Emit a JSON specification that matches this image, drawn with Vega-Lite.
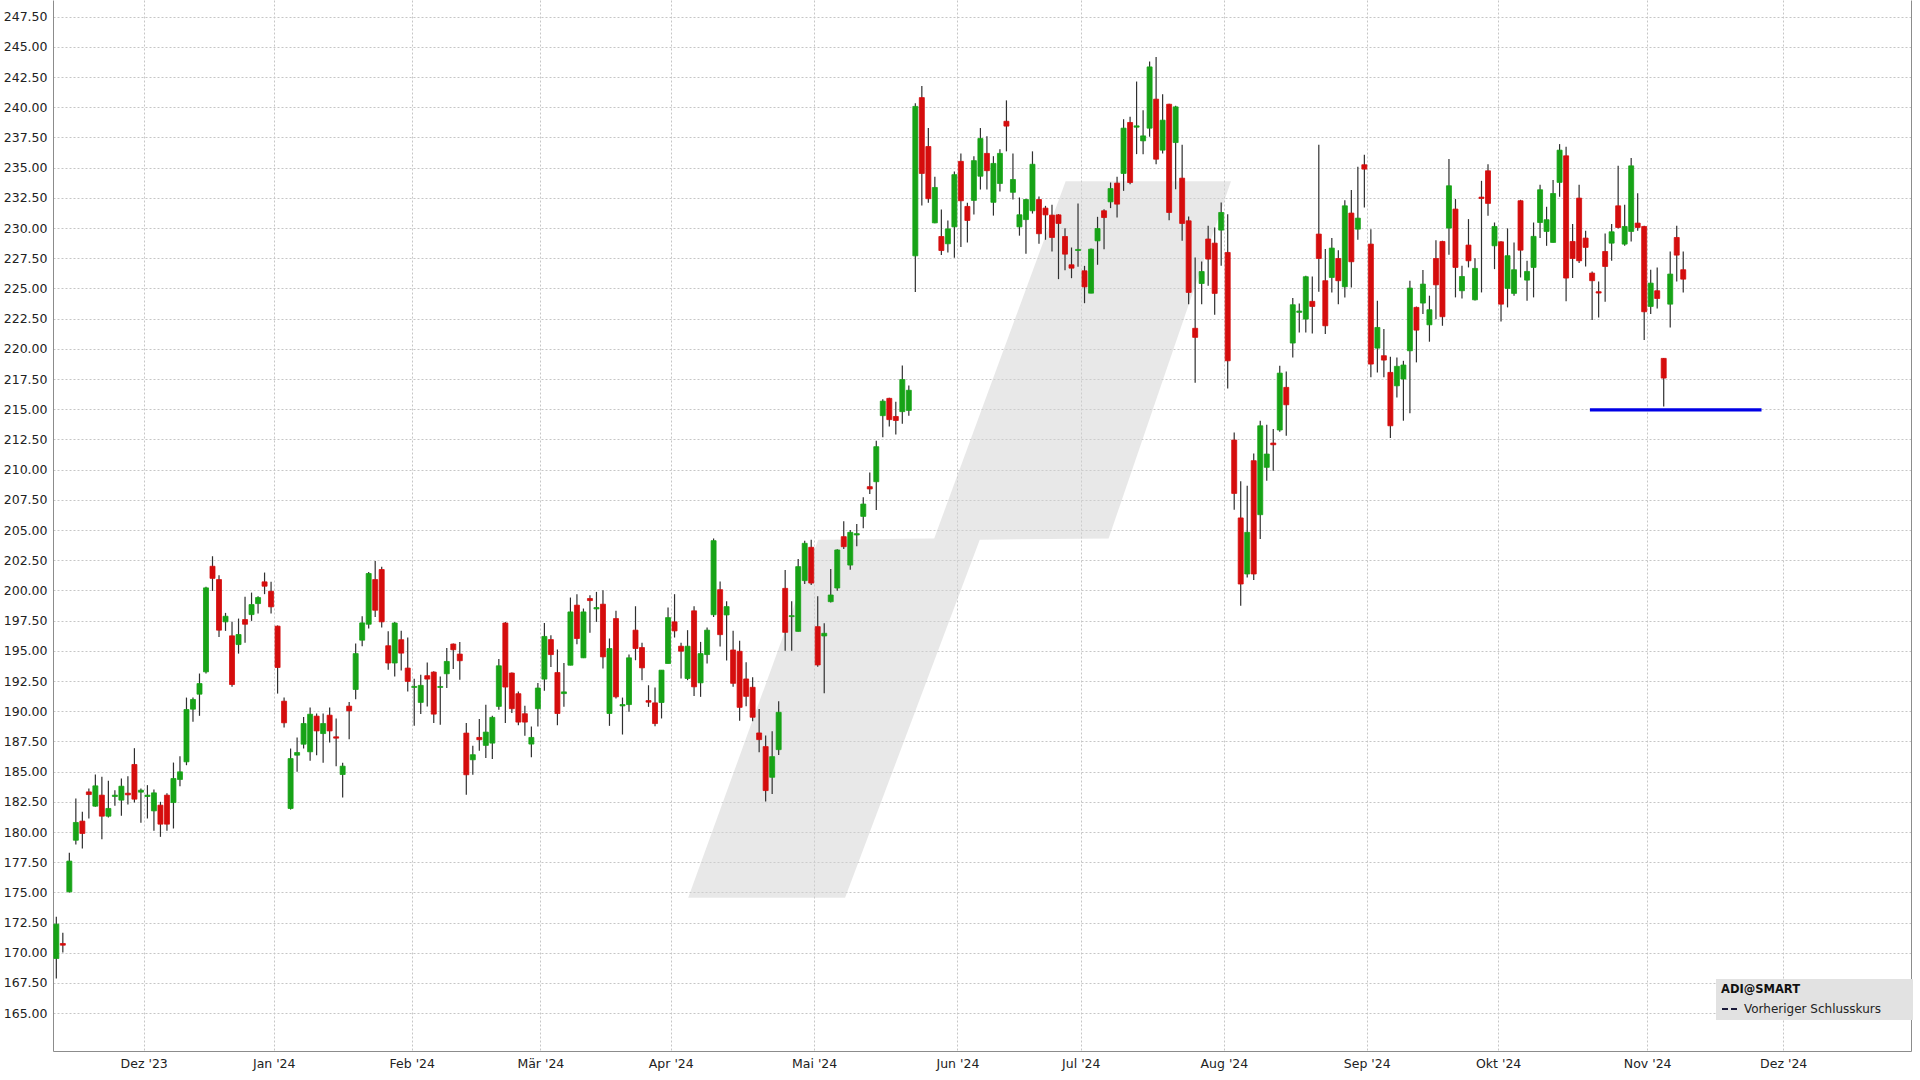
{
"$schema": "https://vega.github.io/schema/vega-lite/v6.json",
"width": 1858, "height": 1051,
"autosize": {"type": "none"},
"padding": {"left": 53, "top": 0, "right": 9, "bottom": 29},
"background": "white",
"config": {"view": {"stroke": null}, "font": "DejaVu Sans"},
"resolve": {"axis": {"y": "independent"}},
"datasets": {
"logo": [
{"p":174.55,"xl":98.1,"xr":122.2},
{"p":204.2,"xl":118.06,"xr":142.9},
{"p":204.3,"xl":135.9,"xr":162.7},
{"p":233.87,"xl":156.1,"xr":181.5}
],
"candles": [
{"i":1,"o":169.53,"h":172.98,"l":167.87,"c":172.37},
{"i":2,"o":170.77,"h":171.65,"l":170.03,"c":170.63},
{"i":3,"o":175.05,"h":178.28,"l":175.0,"c":177.59},
{"i":4,"o":179.32,"h":182.77,"l":178.97,"c":180.79},
{"i":5,"o":180.9,"h":181.67,"l":178.63,"c":179.88},
{"i":6,"o":183.32,"h":183.6,"l":181.12,"c":183.1},
{"i":7,"o":182.14,"h":184.76,"l":182.1,"c":183.82},
{"i":8,"o":183.05,"h":184.57,"l":179.41,"c":181.31},
{"i":9,"o":181.31,"h":184.24,"l":181.2,"c":181.95},
{"i":10,"o":182.94,"h":183.46,"l":182.17,"c":183.05},
{"i":11,"o":182.64,"h":184.43,"l":181.34,"c":183.79},
{"i":12,"o":183.21,"h":184.62,"l":182.28,"c":183.08},
{"i":13,"o":185.59,"h":186.94,"l":182.44,"c":182.72},
{"i":14,"o":183.3,"h":183.6,"l":180.76,"c":183.46},
{"i":15,"o":182.94,"h":183.88,"l":181.12,"c":183.05},
{"i":16,"o":181.75,"h":183.52,"l":180.1,"c":183.24},
{"i":17,"o":182.22,"h":182.5,"l":179.6,"c":180.65},
{"i":18,"o":183.05,"h":183.2,"l":180.1,"c":180.65},
{"i":19,"o":182.44,"h":185.75,"l":180.29,"c":184.43},
{"i":20,"o":184.35,"h":186.28,"l":183.79,"c":184.98},
{"i":21,"o":185.81,"h":191.13,"l":185.53,"c":190.14},
{"i":22,"o":190.17,"h":191.13,"l":189.12,"c":190.97},
{"i":23,"o":191.41,"h":193.12,"l":189.62,"c":192.29},
{"i":24,"o":193.26,"h":200.3,"l":193.12,"c":200.21},
{"i":25,"o":202.0,"h":202.83,"l":199.96,"c":201.0},
{"i":26,"o":200.9,"h":201.26,"l":196.15,"c":196.71},
{"i":27,"o":197.4,"h":198.14,"l":196.65,"c":197.86},
{"i":28,"o":196.24,"h":197.4,"l":192.02,"c":192.21},
{"i":29,"o":195.52,"h":197.67,"l":194.77,"c":196.35},
{"i":30,"o":197.59,"h":199.47,"l":195.66,"c":197.2},
{"i":31,"o":198.0,"h":199.82,"l":197.48,"c":198.83},
{"i":32,"o":198.91,"h":199.52,"l":198.09,"c":199.41},
{"i":33,"o":200.71,"h":201.48,"l":199.69,"c":200.35},
{"i":34,"o":199.93,"h":200.71,"l":198.09,"c":198.64},
{"i":35,"o":197.04,"h":197.1,"l":191.46,"c":193.62},
{"i":36,"o":190.83,"h":191.13,"l":188.65,"c":189.04},
{"i":37,"o":181.95,"h":186.91,"l":181.86,"c":186.08},
{"i":38,"o":186.36,"h":187.82,"l":184.98,"c":186.58},
{"i":39,"o":187.27,"h":189.53,"l":186.91,"c":188.98},
{"i":40,"o":186.64,"h":190.3,"l":185.89,"c":189.75},
{"i":41,"o":189.59,"h":189.81,"l":186.36,"c":188.37},
{"i":42,"o":188.15,"h":189.81,"l":185.73,"c":188.98},
{"i":43,"o":189.67,"h":190.3,"l":187.41,"c":188.37},
{"i":44,"o":187.88,"h":189.4,"l":185.45,"c":187.77},
{"i":45,"o":184.76,"h":185.73,"l":182.86,"c":185.45},
{"i":46,"o":190.42,"h":190.77,"l":187.68,"c":190.03},
{"i":47,"o":191.8,"h":195.6,"l":190.99,"c":194.77},
{"i":48,"o":195.88,"h":197.86,"l":195.38,"c":197.31},
{"i":49,"o":197.2,"h":201.53,"l":196.84,"c":201.4},
{"i":50,"o":200.9,"h":202.44,"l":197.81,"c":198.36},
{"i":51,"o":201.73,"h":201.95,"l":196.93,"c":197.4},
{"i":52,"o":195.42,"h":196.61,"l":193.43,"c":193.99},
{"i":53,"o":193.99,"h":197.38,"l":192.88,"c":197.3},
{"i":54,"o":195.92,"h":196.66,"l":193.38,"c":194.81},
{"i":55,"o":193.57,"h":196.11,"l":191.64,"c":192.47},
{"i":56,"o":191.97,"h":192.69,"l":188.8,"c":192.05},
{"i":57,"o":190.73,"h":193.02,"l":189.76,"c":192.14},
{"i":58,"o":192.94,"h":194.04,"l":190.4,"c":192.66},
{"i":59,"o":193.24,"h":193.3,"l":189.02,"c":189.76},
{"i":60,"o":191.97,"h":192.88,"l":188.88,"c":192.05},
{"i":61,"o":193.1,"h":195.23,"l":191.92,"c":194.12},
{"i":62,"o":195.56,"h":195.6,"l":193.49,"c":195.09},
{"i":63,"o":194.73,"h":195.72,"l":192.61,"c":194.18},
{"i":64,"o":188.19,"h":189.02,"l":183.09,"c":184.74},
{"i":65,"o":185.98,"h":187.14,"l":184.74,"c":186.4},
{"i":66,"o":187.83,"h":189.35,"l":186.73,"c":187.64},
{"i":67,"o":187.17,"h":190.54,"l":186.12,"c":188.27},
{"i":68,"o":187.36,"h":189.63,"l":186.04,"c":189.49},
{"i":69,"o":190.4,"h":194.32,"l":190.12,"c":193.76},
{"i":70,"o":197.3,"h":197.38,"l":189.02,"c":192.0},
{"i":71,"o":193.16,"h":193.2,"l":189.85,"c":190.21},
{"i":72,"o":191.45,"h":191.64,"l":188.83,"c":189.1},
{"i":73,"o":189.79,"h":190.45,"l":187.97,"c":189.1},
{"i":74,"o":187.28,"h":188.74,"l":186.18,"c":187.83},
{"i":75,"o":190.21,"h":192.33,"l":188.74,"c":191.92},
{"i":76,"o":192.66,"h":197.3,"l":191.7,"c":196.19},
{"i":77,"o":195.93,"h":196.29,"l":193.67,"c":194.69},
{"i":78,"o":193.2,"h":195.11,"l":188.84,"c":189.81},
{"i":79,"o":191.46,"h":194.0,"l":190.36,"c":191.6},
{"i":80,"o":193.81,"h":199.41,"l":193.8,"c":198.22},
{"i":81,"o":198.78,"h":199.69,"l":195.55,"c":196.02},
{"i":82,"o":194.42,"h":198.5,"l":194.4,"c":198.22},
{"i":83,"o":199.33,"h":199.6,"l":196.49,"c":199.16},
{"i":84,"o":198.47,"h":199.88,"l":197.4,"c":198.58},
{"i":85,"o":198.86,"h":200.02,"l":193.53,"c":194.5},
{"i":86,"o":189.81,"h":196.02,"l":188.79,"c":195.19},
{"i":87,"o":197.67,"h":198.31,"l":191.05,"c":191.19},
{"i":88,"o":190.44,"h":191.13,"l":188.07,"c":190.55},
{"i":89,"o":190.55,"h":194.69,"l":189.95,"c":194.42},
{"i":90,"o":196.71,"h":198.69,"l":194.22,"c":195.19},
{"i":91,"o":195.27,"h":195.66,"l":192.57,"c":193.59},
{"i":92,"o":190.88,"h":192.15,"l":190.36,"c":190.75},
{"i":93,"o":190.69,"h":191.96,"l":188.76,"c":188.98},
{"i":94,"o":190.72,"h":193.4,"l":189.4,"c":193.4},
{"i":95,"o":193.95,"h":198.58,"l":193.95,"c":197.75},
{"i":96,"o":197.4,"h":199.69,"l":196.1,"c":196.65},
{"i":97,"o":195.38,"h":195.66,"l":192.71,"c":194.97},
{"i":98,"o":192.71,"h":196.71,"l":192.57,"c":195.38},
{"i":99,"o":198.31,"h":198.69,"l":191.27,"c":192.02},
{"i":100,"o":192.35,"h":195.74,"l":191.19,"c":194.77},
{"i":101,"o":194.69,"h":196.93,"l":193.95,"c":196.71},
{"i":102,"o":197.99,"h":204.3,"l":197.8,"c":204.12},
{"i":103,"o":200.06,"h":200.73,"l":195.35,"c":196.34},
{"i":104,"o":197.97,"h":199.1,"l":194.19,"c":198.66},
{"i":105,"o":195.07,"h":196.67,"l":192.03,"c":192.31},
{"i":106,"o":194.96,"h":195.84,"l":189.22,"c":190.32},
{"i":107,"o":192.67,"h":194.05,"l":190.41,"c":191.23},
{"i":108,"o":191.98,"h":192.81,"l":189.17,"c":189.5},
{"i":109,"o":188.2,"h":190.19,"l":186.6,"c":187.65},
{"i":110,"o":187.07,"h":187.98,"l":182.52,"c":183.43},
{"i":111,"o":184.53,"h":188.34,"l":183.15,"c":186.24},
{"i":112,"o":186.82,"h":190.82,"l":186.38,"c":189.91},
{"i":113,"o":200.17,"h":201.69,"l":195.01,"c":196.53},
{"i":114,"o":197.83,"h":199.1,"l":195.01,"c":197.91},
{"i":115,"o":196.61,"h":202.6,"l":196.6,"c":201.97},
{"i":116,"o":200.81,"h":204.12,"l":200.53,"c":203.9},
{"i":117,"o":203.57,"h":204.2,"l":200.45,"c":200.61},
{"i":118,"o":197.0,"h":199.51,"l":193.69,"c":193.83},
{"i":119,"o":196.23,"h":197.28,"l":191.48,"c":196.45},
{"i":120,"o":199.07,"h":201.77,"l":199.0,"c":199.62},
{"i":121,"o":200.2,"h":203.4,"l":199.98,"c":203.35},
{"i":122,"o":204.45,"h":205.72,"l":203.43,"c":203.62},
{"i":123,"o":202.1,"h":205.0,"l":201.72,"c":204.81},
{"i":124,"o":204.59,"h":205.5,"l":203.65,"c":204.7},
{"i":125,"o":206.13,"h":207.71,"l":205.14,"c":207.15},
{"i":126,"o":208.59,"h":209.77,"l":207.98,"c":208.4},
{"i":127,"o":209.0,"h":212.4,"l":206.66,"c":211.9},
{"i":128,"o":214.47,"h":215.83,"l":212.68,"c":215.67},
{"i":129,"o":215.9,"h":215.95,"l":213.57,"c":214.14},
{"i":130,"o":214.4,"h":215.63,"l":212.91,"c":214.07},
{"i":131,"o":214.8,"h":218.63,"l":213.8,"c":217.46},
{"i":132,"o":214.9,"h":216.96,"l":214.47,"c":216.57},
{"i":133,"o":227.7,"h":240.34,"l":224.71,"c":240.07},
{"i":134,"o":240.8,"h":241.77,"l":231.86,"c":234.52},
{"i":135,"o":236.75,"h":238.28,"l":232.09,"c":232.43},
{"i":136,"o":230.43,"h":234.25,"l":230.4,"c":233.36},
{"i":137,"o":229.3,"h":231.53,"l":227.77,"c":228.14},
{"i":138,"o":228.7,"h":230.63,"l":227.97,"c":229.93},
{"i":139,"o":230.1,"h":234.69,"l":227.54,"c":234.42},
{"i":140,"o":235.52,"h":236.18,"l":228.44,"c":232.26},
{"i":141,"o":231.79,"h":232.09,"l":228.8,"c":230.63},
{"i":142,"o":232.29,"h":235.95,"l":231.13,"c":235.58},
{"i":143,"o":234.29,"h":238.28,"l":233.19,"c":237.41},
{"i":144,"o":236.18,"h":237.61,"l":233.19,"c":234.75},
{"i":145,"o":232.13,"h":235.95,"l":231.03,"c":235.35},
{"i":146,"o":233.69,"h":236.52,"l":233.02,"c":236.18},
{"i":147,"o":238.84,"h":240.57,"l":236.35,"c":238.44},
{"i":148,"o":232.96,"h":236.18,"l":232.36,"c":234.02},
{"i":149,"o":230.1,"h":232.53,"l":229.37,"c":231.1},
{"i":150,"o":230.7,"h":232.43,"l":227.87,"c":232.36},
{"i":151,"o":231.43,"h":236.35,"l":231.2,"c":235.28},
{"i":152,"o":232.36,"h":232.62,"l":228.7,"c":229.53},
{"i":153,"o":231.65,"h":231.84,"l":229.03,"c":231.09},
{"i":154,"o":231.07,"h":231.92,"l":228.06,"c":229.22},
{"i":155,"o":231.09,"h":231.15,"l":225.77,"c":230.38},
{"i":156,"o":229.3,"h":229.99,"l":226.51,"c":227.84},
{"i":157,"o":226.96,"h":228.39,"l":225.85,"c":226.68},
{"i":158,"o":228.14,"h":232.03,"l":226.79,"c":228.23},
{"i":159,"o":226.46,"h":226.87,"l":223.78,"c":225.13},
{"i":160,"o":224.61,"h":228.3,"l":224.6,"c":228.25},
{"i":161,"o":228.94,"h":230.93,"l":226.96,"c":229.96},
{"i":162,"o":231.43,"h":231.56,"l":228.25,"c":230.87},
{"i":163,"o":232.17,"h":233.77,"l":231.65,"c":233.27},
{"i":164,"o":233.72,"h":234.24,"l":230.87,"c":231.98},
{"i":165,"o":234.52,"h":239.01,"l":233.08,"c":238.27},
{"i":166,"o":238.74,"h":239.21,"l":233.63,"c":233.77},
{"i":167,"o":238.35,"h":242.13,"l":236.12,"c":238.46},
{"i":168,"o":237.22,"h":239.76,"l":236.12,"c":237.63},
{"i":169,"o":238.27,"h":243.79,"l":237.55,"c":243.34},
{"i":170,"o":240.67,"h":244.17,"l":235.29,"c":235.7},
{"i":171,"o":236.45,"h":241.08,"l":236.17,"c":238.93},
{"i":172,"o":240.25,"h":240.3,"l":230.65,"c":231.29},
{"i":173,"o":237.08,"h":240.12,"l":233.22,"c":240.03},
{"i":174,"o":234.13,"h":236.89,"l":228.94,"c":230.38},
{"i":175,"o":230.6,"h":230.96,"l":223.7,"c":224.67},
{"i":176,"o":221.7,"h":227.57,"l":217.2,"c":220.95},
{"i":177,"o":225.41,"h":227.23,"l":223.7,"c":226.4},
{"i":178,"o":229.09,"h":230.19,"l":225.22,"c":227.43},
{"i":179,"o":228.75,"h":230.05,"l":222.82,"c":224.59},
{"i":180,"o":229.83,"h":232.12,"l":226.88,"c":231.29},
{"i":181,"o":227.98,"h":231.15,"l":216.72,"c":219.01},
{"i":182,"o":212.45,"h":213.08,"l":206.68,"c":208.03},
{"i":183,"o":206.0,"h":209.03,"l":198.74,"c":200.53},
{"i":184,"o":201.36,"h":208.67,"l":201.08,"c":204.81},
{"i":185,"o":210.74,"h":211.34,"l":200.86,"c":201.36},
{"i":186,"o":206.27,"h":214.05,"l":204.25,"c":213.63},
{"i":187,"o":210.19,"h":213.72,"l":209.08,"c":211.29},
{"i":188,"o":212.2,"h":213.36,"l":209.91,"c":212.06},
{"i":189,"o":213.28,"h":218.6,"l":213.14,"c":217.99},
{"i":190,"o":216.81,"h":218.13,"l":212.81,"c":215.37},
{"i":191,"o":220.48,"h":224.2,"l":219.29,"c":223.65},
{"i":192,"o":223.02,"h":223.76,"l":221.36,"c":223.13},
{"i":193,"o":222.46,"h":226.05,"l":221.36,"c":225.97},
{"i":194,"o":223.93,"h":225.99,"l":221.28,"c":223.51},
{"i":195,"o":229.5,"h":236.89,"l":224.73,"c":227.48},
{"i":196,"o":225.64,"h":228.26,"l":221.22,"c":221.91},
{"i":197,"o":225.91,"h":229.17,"l":224.67,"c":228.34},
{"i":198,"o":227.48,"h":228.17,"l":223.7,"c":225.64},
{"i":199,"o":225.14,"h":232.31,"l":224.26,"c":231.84},
{"i":200,"o":231.24,"h":233.14,"l":225.08,"c":227.21},
{"i":201,"o":229.91,"h":235.07,"l":229.03,"c":230.82},
{"i":202,"o":235.24,"h":236.07,"l":231.71,"c":234.88},
{"i":203,"o":228.67,"h":229.91,"l":217.64,"c":218.74},
{"i":204,"o":220.06,"h":223.98,"l":218.05,"c":221.77},
{"i":205,"o":219.43,"h":221.64,"l":217.64,"c":219.07},
{"i":206,"o":218.05,"h":219.35,"l":212.61,"c":213.63},
{"i":207,"o":216.94,"h":219.29,"l":215.98,"c":218.55},
{"i":208,"o":217.5,"h":219.01,"l":214.05,"c":218.66},
{"i":209,"o":219.84,"h":225.64,"l":214.66,"c":225.03},
{"i":210,"o":223.43,"h":223.5,"l":218.88,"c":221.55},
{"i":211,"o":223.79,"h":226.52,"l":222.88,"c":225.36},
{"i":212,"o":221.99,"h":224.4,"l":220.59,"c":223.24},
{"i":213,"o":227.48,"h":229.0,"l":222.46,"c":225.3},
{"i":214,"o":228.89,"h":228.95,"l":221.91,"c":222.66},
{"i":215,"o":230.0,"h":235.71,"l":227.79,"c":233.5},
{"i":216,"o":231.57,"h":232.4,"l":224.26,"c":226.74},
{"i":217,"o":224.81,"h":226.88,"l":224.17,"c":225.99},
{"i":218,"o":228.59,"h":230.74,"l":226.74,"c":227.29},
{"i":219,"o":224.06,"h":227.51,"l":224.0,"c":226.66},
{"i":220,"o":232.56,"h":233.91,"l":224.67,"c":232.45},
{"i":221,"o":234.74,"h":235.29,"l":231.02,"c":232.04},
{"i":222,"o":228.53,"h":230.46,"l":226.6,"c":230.13},
{"i":223,"o":228.86,"h":228.9,"l":222.27,"c":223.7},
{"i":224,"o":225.0,"h":229.97,"l":223.43,"c":227.71},
{"i":225,"o":224.59,"h":228.81,"l":224.39,"c":226.55},
{"i":226,"o":232.26,"h":232.34,"l":225.91,"c":228.17},
{"i":227,"o":225.69,"h":227.29,"l":223.98,"c":226.41},
{"i":228,"o":226.74,"h":230.46,"l":224.26,"c":229.31},
{"i":229,"o":230.46,"h":233.58,"l":229.17,"c":233.17},
{"i":230,"o":229.72,"h":231.76,"l":228.53,"c":230.69},
{"i":231,"o":228.81,"h":233.97,"l":228.8,"c":232.86},
{"i":232,"o":233.78,"h":236.95,"l":232.59,"c":236.45},
{"i":233,"o":235.98,"h":236.73,"l":223.93,"c":225.86},
{"i":234,"o":228.89,"h":230.33,"l":225.86,"c":227.48},
{"i":235,"o":232.48,"h":233.58,"l":227.1,"c":227.29},
{"i":236,"o":229.17,"h":229.77,"l":226.82,"c":228.4},
{"i":237,"o":226.27,"h":226.41,"l":222.38,"c":225.64},
{"i":238,"o":224.73,"h":225.58,"l":222.6,"c":224.62},
{"i":239,"o":228.06,"h":229.55,"l":223.9,"c":226.82},
{"i":240,"o":228.75,"h":230.33,"l":227.29,"c":229.69},
{"i":241,"o":231.84,"h":235.15,"l":229.97,"c":230.05},
{"i":242,"o":228.67,"h":231.93,"l":228.53,"c":230.13},
{"i":243,"o":229.72,"h":235.79,"l":228.89,"c":235.15},
{"i":244,"o":230.41,"h":232.89,"l":229.77,"c":230.05},
{"i":245,"o":230.13,"h":230.2,"l":220.73,"c":223.07},
{"i":246,"o":223.51,"h":226.55,"l":222.88,"c":225.44},
{"i":247,"o":224.81,"h":226.74,"l":223.35,"c":224.17},
{"i":248,"o":219.21,"h":219.25,"l":215.23,"c":217.58},
{"i":249,"o":223.7,"h":228.06,"l":221.77,"c":226.19},
{"i":250,"o":229.22,"h":230.19,"l":225.58,"c":227.76},
{"i":251,"o":226.55,"h":228.06,"l":224.67,"c":225.77}
]
},
"layer": [
{
"data": {"name": "logo"},
"mark": {"type": "area", "orient": "horizontal", "fill": "#d2d2d2", "fillOpacity": 0.5},
"encoding": {
"y": {"field": "p", "type": "quantitative", "scale": {"domain": [161.87, 248.88], "nice": false, "zero": false},
 "axis": {"values": [165,167.5,170,172.5,175,177.5,180,182.5,185,187.5,190,192.5,195,197.5,200,202.5,205,207.5,210,212.5,215,217.5,220,222.5,225,227.5,230,232.5,235,237.5,240,242.5,245,247.5],
 "format": ".2f", "title": null, "ticks": false, "labelPadding": 6, "labelFontSize": 12.5, "labelColor": "#222222", "labelFont": "DejaVu Sans",
 "labelOverlap": false, "labelBound": false, "labelFlush": false,
 "grid": true, "gridColor": "#c6c6c6", "gridDash": [2, 2], "domainColor": "#8c8c8c", "zindex": 0}},
"x": {"field": "xl", "type": "quantitative", "scale": {"domain": [0.49, 286.0], "nice": false, "zero": false, "padding": 0},
 "axis": {"values": [14.43,34.41,55.62,75.38,95.42,117.45,139.47,158.43,180.41,202.37,222.56,245.46,266.36],
 "labelExpr": "[\"Dez '23\",\"Jan '24\",\"Feb '24\",\"Mär '24\",\"Apr '24\",\"Mai '24\",\"Jun '24\",\"Jul '24\",\"Aug '24\",\"Sep '24\",\"Okt '24\",\"Nov '24\",\"Dez '24\"][indexof([14.43,34.41,55.62,75.38,95.42,117.45,139.47,158.43,180.41,202.37,222.56,245.46,266.36], datum.value)]",
 "title": null, "ticks": false, "labelPadding": 6, "labelFontSize": 12.5, "labelColor": "#222222", "labelFont": "DejaVu Sans",
 "labelFlush": false, "labelOverlap": false,
 "grid": true, "gridColor": "#c6c6c6", "gridDash": [2, 2], "domainColor": "#8c8c8c", "zindex": 0}},
"x2": {"field": "xr"}
}
},
{
"data": {"name": "candles"},
"mark": {"type": "rule", "color": "#303030", "strokeWidth": 1.2},
"encoding": {
"x": {"field": "i", "type": "quantitative", "scale": {"domain": [0.49, 286.0], "nice": false, "zero": false, "padding": 0}},
"y": {"field": "l", "type": "quantitative", "scale": {"domain": [161.87, 248.88], "nice": false, "zero": false}, "axis": null},
"y2": {"field": "h"}
}
},
{
"data": {"name": "candles"},
"mark": {"type": "bar", "width": 5, "strokeWidth": 0.8},
"encoding": {
"x": {"field": "i", "type": "quantitative", "scale": {"domain": [0.49, 286.0], "nice": false, "zero": false, "padding": 0}},
"y": {"field": "o", "type": "quantitative", "scale": {"domain": [161.87, 248.88], "nice": false, "zero": false}, "axis": null},
"y2": {"field": "c"},
"fill": {"condition": {"test": "datum.c >= datum.o", "value": "#17a317"}, "value": "#d50d0d"},
"stroke": {"condition": {"test": "datum.c >= datum.o", "value": "#17a317"}, "value": "#d50d0d"}
}
},
{
"data": {"values": [{"a": 236.66, "b": 263.03, "p": 214.95}]},
"mark": {"type": "rule", "color": "#0000e6", "strokeWidth": 3.3},
"encoding": {
"x": {"field": "a", "type": "quantitative", "scale": {"domain": [0.49, 286.0], "nice": false, "zero": false, "padding": 0}},
"x2": {"field": "b"},
"y": {"field": "p", "type": "quantitative", "scale": {"domain": [161.87, 248.88], "nice": false, "zero": false}, "axis": null}
}
},
{
"data": {"values": [{"name": "Vorheriger Schlusskurs", "i": 250, "p": 226}]},
"mark": {"type": "rule", "color": "#1a1a3a", "strokeWidth": 2},
"encoding": {
"x": {"field": "i", "type": "quantitative", "scale": {"domain": [0.49, 286.0], "nice": false, "zero": false, "padding": 0}},
"x2": {"field": "i"},
"y": {"field": "p", "type": "quantitative", "scale": {"domain": [161.87, 248.88], "nice": false, "zero": false},
 "axis": {"orient": "right", "labels": false, "ticks": false, "grid": false, "title": null, "domainColor": "#8c8c8c"}},
"y2": {"field": "p"},
"strokeDash": {"field": "name", "type": "nominal", "scale": {"range": [[6, 3]]},
 "legend": {"title": "ADI@SMART", "orient": "none", "legendX": 1663, "legendY": 979,
  "fillColor": "#e2e2e2", "padding": 5, "titleFontSize": 11.5, "titleFont": "DejaVu Sans", "titleFontWeight": "bold", "titleColor": "#111111", "titlePadding": 4,
  "labelFontSize": 12, "labelFont": "DejaVu Sans", "labelColor": "#222222", "labelLimit": 400,
  "labelExpr": "datum.label + '\u2800\u2800\u2800'",
  "symbolType": "stroke", "symbolStrokeColor": "#1a1a3a", "symbolStrokeWidth": 2, "symbolSize": 289}}
}
}
]
}
